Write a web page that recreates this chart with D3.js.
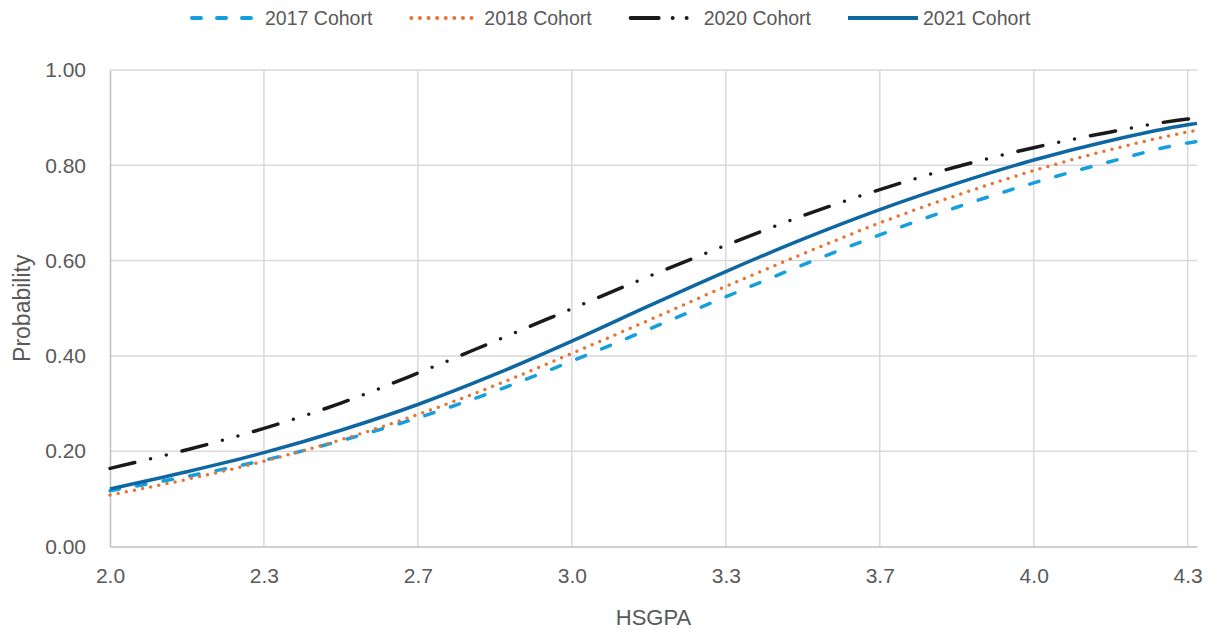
<!DOCTYPE html>
<html>
<head>
<meta charset="utf-8">
<script src="https://cdn.jsdelivr.net/npm/d3@7"></script>
<style>
  body { margin: 0; background: #fff; }
  svg { display: block; font-family: "Liberation Sans", Arial, sans-serif; }
</style>
</head>
<body>
<svg id="chart" width="1214" height="631"></svg>
<script>
// values (probability by HSGPA)
const hsgpa = [2.0, 2.165, 2.33, 2.495, 2.66, 2.825, 2.99, 3.155, 3.32, 3.485, 3.65, 3.815, 3.98, 4.145, 4.31, 4.33];
const cohort2017 = [0.117, 0.147, 0.181, 0.222, 0.270, 0.326, 0.389, 0.456, 0.524, 0.591, 0.654, 0.712, 0.763, 0.808, 0.847, 0.850];
const cohort2018 = [0.108, 0.141, 0.179, 0.224, 0.277, 0.338, 0.405, 0.475, 0.546, 0.614, 0.679, 0.737, 0.789, 0.833, 0.870, 0.874];
const cohort2020 = [0.164, 0.203, 0.248, 0.301, 0.364, 0.431, 0.499, 0.567, 0.632, 0.694, 0.749, 0.797, 0.837, 0.870, 0.897, 0.899];
const cohort2021 = [0.121, 0.157, 0.197, 0.244, 0.298, 0.361, 0.431, 0.505, 0.577, 0.645, 0.707, 0.762, 0.811, 0.852, 0.885, 0.888];

const seriesNames = ["2017 Cohort", "2018 Cohort", "2020 Cohort", "2021 Cohort"];
const xTickValues = [2.0, 2.33, 2.66, 2.99, 3.32, 3.65, 3.98, 4.31];
const xTickLabels = ["2.0", "2.3", "2.7", "3.0", "3.3", "3.7", "4.0", "4.3"];
const yTickValues = [0, 0.2, 0.4, 0.6, 0.8, 1.0];

var styles = [
  { color: "#159fdd", dash: "9.5,17.5", legendDash: "9,16" },
  { color: "#e97132", dash: "0,8.3", legendDash: "0,8.6" },
  { color: "#1a1a1a", dash: "25.5,16.2,0,16.2,0,16.2", legendDash: "28,14,0,14,0,14" },
  { color: "#0e67a0", dash: null, legendDash: null }
];
var allSeries = [cohort2017, cohort2018, cohort2020, cohort2021];

var svg = d3.select("#chart");
var margin = { left: 110, right: 1197, top: 70, bottom: 546.5 };

var x = d3.scaleLinear().domain([2.0, 4.33]).range([margin.left, margin.right]);
var y = d3.scaleLinear().domain([0, 1]).range([margin.bottom, margin.top]);

var textColor = "#595959";
var gridColor = "#d9d9d9";

// gridlines
var grid = svg.append("g").attr("class", "grid");
grid.selectAll("line.h")
  .data(yTickValues.filter(d => d > 0))
  .enter()
  .append("line")
  .attr("class", "h")
  .attr("x1", margin.left).attr("x2", margin.right)
  .attr("y1", d => y(d)).attr("y2", d => y(d))
  .attr("stroke", gridColor).attr("stroke-width", 1.5);
grid.selectAll("line.v")
  .data(xTickValues.slice(1))
  .enter()
  .append("line")
  .attr("class", "v")
  .attr("x1", d => x(d)).attr("x2", d => x(d))
  .attr("y1", margin.top).attr("y2", margin.bottom)
  .attr("stroke", gridColor).attr("stroke-width", 1.5);

// axes
var xAxis = svg.append("g")
  .attr("transform", "translate(0," + margin.bottom + ")")
  .call(d3.axisBottom(x).tickValues(xTickValues).tickSize(0).tickPadding(22)
    .tickFormat((d, i) => xTickLabels[i]));
xAxis.select(".domain").attr("stroke", "#bfbfbf").attr("stroke-width", 1.5);
xAxis.selectAll("text").attr("fill", textColor).attr("font-size", "21px")
  .attr("font-family", "Liberation Sans, Arial, sans-serif");

var yAxis = svg.append("g")
  .attr("transform", "translate(" + margin.left + ",0)")
  .call(d3.axisLeft(y).tickValues(yTickValues).tickSize(0).tickPadding(24)
    .tickFormat(d3.format(".2f")));
yAxis.select(".domain").attr("stroke", "#bfbfbf").attr("stroke-width", 1.5);
yAxis.selectAll("text").attr("fill", textColor).attr("font-size", "21px")
  .attr("font-family", "Liberation Sans, Arial, sans-serif");

// axis titles
svg.append("text")
  .attr("x", (margin.left + margin.right) / 2)
  .attr("y", 617)
  .attr("dy", "0.35em")
  .attr("text-anchor", "middle")
  .attr("fill", textColor)
  .attr("font-size", "22px")
  .text("HSGPA");

svg.append("text")
  .attr("transform", "translate(22," + (margin.top + margin.bottom) / 2 + ") rotate(-90)")
  .attr("dy", "0.35em")
  .attr("text-anchor", "middle")
  .attr("fill", textColor)
  .attr("font-size", "23px")
  .text("Probability");

// lines
var line = d3.line()
  .x(d => x(d[0]))
  .y(d => y(d[1]))
  .curve(d3.curveMonotoneX);

svg.append("g")
  .attr("class", "lines")
  .selectAll("path")
  .data(allSeries)
  .enter()
  .append("path")
  .attr("d", d => line(d.map((v, i) => [hsgpa[i], v])))
  .attr("fill", "none")
  .attr("stroke", (d, i) => styles[i].color)
  .attr("stroke-width", 3.5)
  .attr("stroke-linecap", (d, i) => styles[i].dash ? "round" : "butt")
  .attr("stroke-dasharray", (d, i) => styles[i].dash);

// legend
var legend = svg.append("g").attr("class", "legend");
var lx = 190;
seriesNames.forEach(function(name, i) {
  var item = legend.append("g").attr("transform", "translate(" + lx + ",18)");
  item.append("line")
    .attr("x1", i == 3 ? 0 : 2).attr("x2", i == 3 ? 70 : 68)
    .attr("y1", 0).attr("y2", 0)
    .attr("stroke", styles[i].color)
    .attr("stroke-width", 4)
    .attr("stroke-linecap", styles[i].dash ? "round" : "butt")
    .attr("stroke-dasharray", styles[i].legendDash);
  var t = item.append("text")
    .attr("x", 75)
    .attr("dy", "0.35em")
    .attr("fill", textColor)
    .attr("font-size", "19.5px")
    .text(name);
  lx += 75 + t.node().getComputedTextLength() + 37;
});
</script>
</body>
</html>
